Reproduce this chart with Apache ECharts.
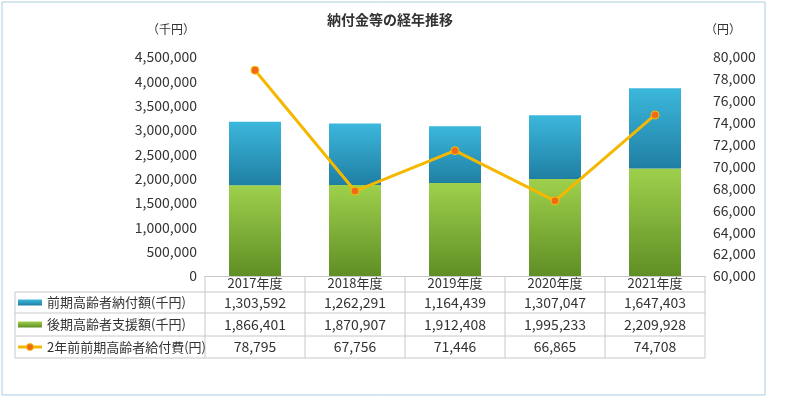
<!DOCTYPE html>
<html><head><meta charset="utf-8">
<script src="https://cdn.jsdelivr.net/npm/echarts@6/dist/echarts.min.js"></script>
<style>html,body{margin:0;background:#fff}#c{width:794px;height:403px}</style>
</head><body><div id="c"></div>
<script>
const years = ["2017年度", "2018年度", "2019年度", "2020年度", "2021年度"];
const zenki = [1303592, 1262291, 1164439, 1307047, 1647403];
const kouki = [1866401, 1870907, 1912408, 1995233, 2209928];
const kyufu = [78795, 67756, 71446, 66865, 74708];
const rowNames = ["前期高齢者納付額(千円)", "後期高齢者支援額(千円)", "2年前前期高齢者給付費(円)"];

const FONT = '"Noto Sans CJK JP", sans-serif';
const gl = 205, gr = 705, gt = 57, gb = 276;
const cw = (gr - gl) / years.length;
const rowY = [292, 313, 336, 358];

const fmt = v => v.toLocaleString("en-US");
const grad = (a, b) => new echarts.graphic.LinearGradient(0, 0, 0, 1, [{ offset: 0, color: a }, { offset: 1, color: b }]);
const blue = grad("#3cb7dc", "#1f7fa3");
const green = grad("#9fd04c", "#5f8f25");

// 表の線と文字
const g = [];
const line = (x1, y1, x2, y2) => g.push({ type: "line", shape: { x1, y1, x2, y2 }, style: { stroke: "#c8c8c8", lineWidth: 1 } });
rowY.forEach(y => line(15, y, gr, y));
line(15, rowY[0], 15, rowY[3]);
for (let i = 0; i <= years.length; i++) line(gl + i * cw, gb, gl + i * cw, rowY[3]);
const rows = [zenki, kouki, kyufu];
rows.forEach((arr, r) => {
  const cy = (rowY[r] + rowY[r + 1]) / 2;
  arr.forEach((v, i) => g.push({ type: "text", x: gl + (i + 0.5) * cw, y: cy, style: { text: fmt(v), font: "14px " + FONT, fill: "#333", textAlign: "center", textVerticalAlign: "middle" } }));
  g.push({ type: "text", x: 47, y: cy, style: { text: rowNames[r], font: "13px " + FONT, fill: "#333", textVerticalAlign: "middle" } });
});
const iy = rowY.slice(0, 3).map((y, r) => (y + rowY[r + 1]) / 2);
g.push({ type: "rect", shape: { x: 18, y: iy[0] - 3, width: 24, height: 6 }, style: { fill: blue } });
g.push({ type: "rect", shape: { x: 18, y: iy[1] - 3, width: 24, height: 6 }, style: { fill: green } });
g.push({ type: "line", shape: { x1: 18, y1: iy[2], x2: 42, y2: iy[2] }, style: { stroke: "#f5b800", lineWidth: 3 } });
g.push({ type: "circle", shape: { cx: 30, cy: iy[2], r: 3.5 }, style: { fill: "#f06a1a", stroke: "#f5c000", lineWidth: 1 } });
g.push({ type: "rect", shape: { x: 2, y: 2, width: 763, height: 393 }, style: { fill: "none", stroke: "#a9cfe0", lineWidth: 1 } });

const chart = echarts.init(document.getElementById("c"));
chart.setOption({
  animation: false,
  textStyle: { fontFamily: FONT },
  title: { text: "納付金等の経年推移", left: 385, top: 8, textAlign: "center", textStyle: { fontSize: 14, fontWeight: "bold", color: "#333" } },
  grid: { left: gl, right: 794 - gr, top: gt, bottom: 403 - gb },
  xAxis: { type: "category", data: years, axisTick: { show: false }, axisLine: { lineStyle: { color: "#c8c8c8" } }, axisLabel: { color: "#333", fontSize: 13, margin: 1 } },
  yAxis: [
    { type: "value", min: 0, max: 4500000, interval: 500000, name: "（千円）", nameGap: 22, nameTextStyle: { color: "#333", fontSize: 12, align: "right", padding: [0, 10, 0, 0] },
      axisLabel: { color: "#333", fontSize: 14, formatter: fmt }, splitLine: { show: false }, axisLine: { show: false } },
    { type: "value", min: 60000, max: 80000, interval: 2000, name: "（円）", nameGap: 22, nameTextStyle: { color: "#333", fontSize: 12, align: "left" },
      axisLabel: { color: "#333", fontSize: 14, formatter: fmt }, splitLine: { show: false }, axisLine: { show: false } }
  ],
  series: [
    { name: rowNames[1], type: "bar", stack: "a", data: kouki, barWidth: 52, itemStyle: { color: green } },
    { name: rowNames[0], type: "bar", stack: "a", data: zenki, barWidth: 52, itemStyle: { color: blue } },
    { name: rowNames[2], type: "line", yAxisIndex: 1, data: kyufu, symbol: "circle", symbolSize: 8,
      lineStyle: { color: "#f5b800", width: 3 }, itemStyle: { color: "#f06a1a", borderColor: "#f5c000", borderWidth: 1 } }
  ],
  graphic: g
});
</script></body></html>
